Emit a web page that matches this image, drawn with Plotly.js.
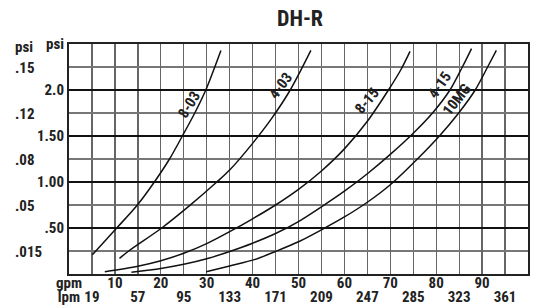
<!DOCTYPE html>
<html>
<head>
<meta charset="utf-8">
<script src="https://cdn.plot.ly/plotly-3.0.1.min.js"></script>
<style>html,body{margin:0;padding:0;background:#fff;}#chart{width:538px;height:308px;}</style>
</head>
<body>
<div id="chart"></div>
<script>
// ---- data (gpm vs psi) ----
const names = ['8-03', '4-03', '8-15', '4-15', '10MG'];
const gpm_803 = [5.1, 10.4, 14.9, 18.6, 21.9, 24.7, 27.4, 29.8, 33.1];
const psi_803 = [0.21, 0.5, 0.75, 1.0, 1.25, 1.5, 1.75, 2.0, 2.43];
const gpm_403 = [11.0, 13.0, 20.2, 26.2, 32.2, 35.0, 40.0, 44.0, 48.2, 52.7];
const psi_403 = [0.17, 0.25, 0.5, 0.74, 1.0, 1.13, 1.42, 1.68, 2.0, 2.43];
const gpm_815 = [7.8, 15, 20, 25, 30, 35, 40, 45, 50, 55, 60, 65, 69.6, 72.3, 74.3];
const psi_815 = [0.025, 0.085, 0.145, 0.225, 0.33, 0.46, 0.60, 0.75, 0.92, 1.12, 1.36, 1.66, 2.0, 2.22, 2.42];
const gpm_415 = [13.6, 20, 25, 30, 35, 40, 45, 50, 55, 60, 65, 70, 75, 79.2, 83.0, 85.7, 87.7];
const psi_415 = [0.02, 0.06, 0.105, 0.165, 0.245, 0.335, 0.44, 0.57, 0.73, 0.9, 1.09, 1.3, 1.53, 1.75, 2.0, 2.25, 2.45];
const gpm_10mg = [29.9, 35, 40.4, 45, 50, 55, 60, 65, 70, 75.9, 80.7, 84.9, 88.5, 91.2, 93.1];
const psi_10mg = [0.025, 0.088, 0.156, 0.245, 0.35, 0.48, 0.62, 0.78, 0.97, 1.25, 1.5, 1.75, 2.0, 2.25, 2.43];

// tick labels
const gpmTickVals = [0, 10, 20, 30, 40, 50, 60, 70, 80, 90, 100];
const gpmTickText = ['gpm', '10', '20', '30', '40', '50', '60', '70', '80', '90', '100'];
const lpmTickVals = [0, 5, 15, 25, 35, 45, 55, 65, 75, 85, 95];
const lpmTickText = ['lpm', '19', '57', '95', '133', '171', '209', '247', '285', '323', '361'];
const psiTickVals = [0.5, 1.0, 1.5, 2.0, 2.5];
const psiTickText = ['.50', '1.00', '1.50', '2.0', 'psi'];
const barTickVals = [0.25, 0.75, 1.25, 1.75, 2.25, 2.5];
const barTickText = ['.015', '.05', '.08', '.12', '.15', 'psi'];

// ---- layout/style ----
const FONT = '"Liberation Sans Narrow", "Arial Narrow", "Roboto Condensed", "Liberation Sans", Arial, sans-serif';
const TXT = '#222';
const seriesX = [gpm_803, gpm_403, gpm_815, gpm_415, gpm_10mg];
const seriesY = [psi_803, psi_403, psi_815, psi_415, psi_10mg];
const labelPos = [
  {x: 26.1, y: 1.84, a: -58},
  {x: 46.1, y: 2.04, a: -53},
  {x: 64.9, y: 1.88, a: -50},
  {x: 80.8, y: 2.05, a: -55},
  {x: 84.6, y: 1.90, a: -52}
];

const traces = names.map((n, i) => ({
  type: 'scatter', mode: 'lines', name: n,
  x: seriesX[i], y: seriesY[i],
  line: {color: '#111', width: 1.5, shape: 'spline', smoothing: 0.8},
  hoverinfo: 'skip', showlegend: false
}));
traces.push({type: 'scatter', mode: 'lines', x: [0, 100], y: [0, 0], xaxis: 'x2', yaxis: 'y',
  line: {width: 0, color: 'rgba(0,0,0,0)'}, hoverinfo: 'skip', showlegend: false});

const annotations = names.map((n, i) => ({
  x: labelPos[i].x, y: labelPos[i].y, xref: 'x', yref: 'y',
  text: '<b>' + n + '</b>', showarrow: false, textangle: labelPos[i].a,
  font: {family: FONT, size: 15, color: TXT}
}));
barTickVals.forEach((v, i) => {
  annotations.push({
    x: -0.122, y: v, xref: 'paper', yref: 'y', xanchor: 'left', yanchor: 'middle',
    yshift: (i === barTickVals.length - 1) ? -3 : -1,
    text: '<b>' + barTickText[i] + '</b>', showarrow: false,
    font: {family: FONT, size: 15, color: TXT}
  });
});
annotations.push({
  x: 0.503, y: 1 + (44 - 18.5) / 230, xref: 'paper', yref: 'paper', yanchor: 'middle', xanchor: 'center',
  text: '<b>DH-R</b>', showarrow: false,
  font: {family: FONT, size: 22, color: TXT}
});

const layout = {
  width: 538, height: 308,
  margin: {l: 69, r: 10, t: 44, b: 34},
  paper_bgcolor: '#fff', plot_bgcolor: '#fff',
  showlegend: false,
  xaxis: {
    range: [0, 100], tickvals: gpmTickVals, ticktext: gpmTickText, ticklabelstandoff: -6,
    tickfont: {family: FONT, size: 15, color: TXT, weight: 'bold'},
    showgrid: true, gridcolor: '#666', gridwidth: 1.3,
    minor: {dtick: 5, tick0: 0, showgrid: true, gridcolor: '#666', gridwidth: 1.3, ticklen: 0},
    ticks: '', zeroline: false,
    showline: true, linecolor: '#222', linewidth: 2, mirror: true,
    fixedrange: true
  },
  xaxis2: {
    overlaying: 'x', anchor: 'y', side: 'bottom', range: [0, 100],
    tickvals: lpmTickVals, ticktext: lpmTickText, ticklabelstandoff: 12,
    tickfont: {family: FONT, size: 15, color: TXT, weight: 'bold'},
    showgrid: false, zeroline: false, ticks: '', showline: false, fixedrange: true
  },
  yaxis: {
    range: [0, 2.5], tickvals: psiTickVals, ticktext: psiTickText,
    tickfont: {family: FONT, size: 15, color: TXT, weight: 'bold'},
    showgrid: true, gridcolor: '#111', gridwidth: 1.2,
    minor: {dtick: 0.25, tick0: 0, showgrid: true, gridcolor: '#777', gridwidth: 1.2, ticklen: 0},
    ticks: '', zeroline: false,
    showline: true, linecolor: '#222', linewidth: 2, mirror: true,
    fixedrange: true
  },
  annotations: annotations
};

Plotly.newPlot('chart', traces, layout, {displayModeBar: false, staticPlot: true});
</script>
</body>
</html>
